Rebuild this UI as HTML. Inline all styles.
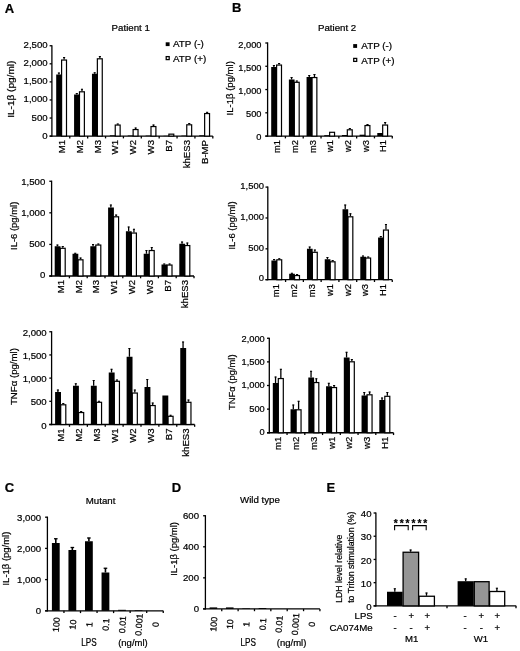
<!DOCTYPE html>
<html><head><meta charset="utf-8"><title>Figure</title>
<style>
html,body{margin:0;padding:0;background:#fff;}
svg{display:block;font-family:"Liberation Sans",Arial,sans-serif;fill:#111;}
svg text{fill:#000;stroke:#000;stroke-width:0.22px;}
</style></head><body>
<svg width="520" height="651" viewBox="0 0 520 651">
<rect x="0" y="0" width="520" height="651" fill="#fff"/>
<text x="4.70" y="12.50" text-anchor="start" font-size="13.0" font-weight="bold">A</text>
<text x="232.00" y="12.40" text-anchor="start" font-size="13.0" font-weight="bold">B</text>
<text x="4.80" y="492.20" text-anchor="start" font-size="13.0" font-weight="bold">C</text>
<text x="171.80" y="491.60" text-anchor="start" font-size="13.0" font-weight="bold">D</text>
<text x="326.40" y="492.20" text-anchor="start" font-size="13.0" font-weight="bold">E</text>
<line x1="51.90" y1="45.15" x2="51.90" y2="136.75" stroke="#000" stroke-width="1.3"/>
<line x1="49.60" y1="136.10" x2="212.82" y2="136.10" stroke="#000" stroke-width="1.3"/>
<line x1="49.60" y1="45.75" x2="51.90" y2="45.75" stroke="#000" stroke-width="1.3"/>
<text x="47.60" y="47.51" text-anchor="end" font-size="9.6">2,500</text>
<line x1="49.60" y1="63.82" x2="51.90" y2="63.82" stroke="#000" stroke-width="1.3"/>
<text x="47.60" y="65.82" text-anchor="end" font-size="9.6">2,000</text>
<line x1="49.60" y1="81.89" x2="51.90" y2="81.89" stroke="#000" stroke-width="1.3"/>
<text x="47.60" y="84.13" text-anchor="end" font-size="9.6">1,500</text>
<line x1="49.60" y1="99.96" x2="51.90" y2="99.96" stroke="#000" stroke-width="1.3"/>
<text x="47.60" y="102.44" text-anchor="end" font-size="9.6">1,000</text>
<line x1="49.60" y1="118.03" x2="51.90" y2="118.03" stroke="#000" stroke-width="1.3"/>
<text x="47.60" y="120.75" text-anchor="end" font-size="9.6">500</text>
<line x1="49.60" y1="136.10" x2="51.90" y2="136.10" stroke="#000" stroke-width="1.3"/>
<text x="47.60" y="139.06" text-anchor="end" font-size="9.6">0</text>
<line x1="69.78" y1="136.10" x2="69.78" y2="138.40" stroke="#000" stroke-width="1.3"/>
<line x1="87.66" y1="136.10" x2="87.66" y2="138.40" stroke="#000" stroke-width="1.3"/>
<line x1="105.54" y1="136.10" x2="105.54" y2="138.40" stroke="#000" stroke-width="1.3"/>
<line x1="123.42" y1="136.10" x2="123.42" y2="138.40" stroke="#000" stroke-width="1.3"/>
<line x1="141.30" y1="136.10" x2="141.30" y2="138.40" stroke="#000" stroke-width="1.3"/>
<line x1="159.18" y1="136.10" x2="159.18" y2="138.40" stroke="#000" stroke-width="1.3"/>
<line x1="177.06" y1="136.10" x2="177.06" y2="138.40" stroke="#000" stroke-width="1.3"/>
<line x1="194.94" y1="136.10" x2="194.94" y2="138.40" stroke="#000" stroke-width="1.3"/>
<line x1="212.82" y1="136.10" x2="212.82" y2="138.40" stroke="#000" stroke-width="1.3"/>
<rect x="61.60" y="60.05" width="4.90" height="76.05" fill="#fff" stroke="#000" stroke-width="1.2"/>
<line x1="64.10" y1="59.50" x2="64.10" y2="57.20" stroke="#000" stroke-width="1.3"/>
<line x1="63.05" y1="57.50" x2="65.15" y2="57.50" stroke="#000" stroke-width="1.05"/>
<rect x="56.20" y="74.50" width="5.70" height="61.60" fill="#000"/>
<line x1="58.90" y1="74.50" x2="58.90" y2="72.70" stroke="#000" stroke-width="1.3"/>
<line x1="57.85" y1="73.00" x2="59.95" y2="73.00" stroke="#000" stroke-width="1.05"/>
<text x="64.74" y="140.00" text-anchor="end" font-size="9.6" transform="rotate(-90 64.74 140.00)">M1</text>
<rect x="79.48" y="91.80" width="4.90" height="44.30" fill="#fff" stroke="#000" stroke-width="1.2"/>
<line x1="81.98" y1="91.25" x2="81.98" y2="88.95" stroke="#000" stroke-width="1.3"/>
<line x1="80.93" y1="89.25" x2="83.03" y2="89.25" stroke="#000" stroke-width="1.05"/>
<rect x="74.08" y="94.50" width="5.70" height="41.60" fill="#000"/>
<line x1="76.78" y1="94.50" x2="76.78" y2="93.20" stroke="#000" stroke-width="1.3"/>
<line x1="75.73" y1="93.50" x2="77.83" y2="93.50" stroke="#000" stroke-width="1.05"/>
<text x="82.62" y="140.00" text-anchor="end" font-size="9.6" transform="rotate(-90 82.62 140.00)">M2</text>
<rect x="97.36" y="58.80" width="4.90" height="77.30" fill="#fff" stroke="#000" stroke-width="1.2"/>
<line x1="99.86" y1="58.25" x2="99.86" y2="56.20" stroke="#000" stroke-width="1.3"/>
<line x1="98.81" y1="56.50" x2="100.91" y2="56.50" stroke="#000" stroke-width="1.05"/>
<rect x="91.96" y="73.75" width="5.70" height="62.35" fill="#000"/>
<line x1="94.66" y1="73.75" x2="94.66" y2="72.45" stroke="#000" stroke-width="1.3"/>
<line x1="93.61" y1="72.75" x2="95.71" y2="72.75" stroke="#000" stroke-width="1.05"/>
<text x="100.50" y="140.00" text-anchor="end" font-size="9.6" transform="rotate(-90 100.50 140.00)">M3</text>
<rect x="115.24" y="125.05" width="4.90" height="11.05" fill="#fff" stroke="#000" stroke-width="1.2"/>
<line x1="117.74" y1="124.50" x2="117.74" y2="123.70" stroke="#000" stroke-width="1.3"/>
<line x1="116.69" y1="124.00" x2="118.79" y2="124.00" stroke="#000" stroke-width="1.05"/>
<rect x="109.84" y="135.30" width="5.70" height="0.80" fill="#000"/>
<text x="118.38" y="140.00" text-anchor="end" font-size="9.6" transform="rotate(-90 118.38 140.00)">W1</text>
<rect x="133.12" y="129.55" width="4.90" height="6.55" fill="#fff" stroke="#000" stroke-width="1.2"/>
<line x1="135.62" y1="129.00" x2="135.62" y2="127.70" stroke="#000" stroke-width="1.3"/>
<line x1="134.57" y1="128.00" x2="136.67" y2="128.00" stroke="#000" stroke-width="1.05"/>
<rect x="127.72" y="135.50" width="5.70" height="0.60" fill="#000"/>
<text x="136.26" y="140.00" text-anchor="end" font-size="9.6" transform="rotate(-90 136.26 140.00)">W2</text>
<rect x="151.00" y="126.55" width="4.90" height="9.55" fill="#fff" stroke="#000" stroke-width="1.2"/>
<line x1="153.50" y1="126.00" x2="153.50" y2="124.70" stroke="#000" stroke-width="1.3"/>
<line x1="152.45" y1="125.00" x2="154.55" y2="125.00" stroke="#000" stroke-width="1.05"/>
<rect x="145.60" y="135.60" width="5.70" height="0.50" fill="#000"/>
<text x="154.14" y="140.00" text-anchor="end" font-size="9.6" transform="rotate(-90 154.14 140.00)">W3</text>
<rect x="168.88" y="134.15" width="4.90" height="1.95" fill="#fff" stroke="#000" stroke-width="1.2"/>
<rect x="163.48" y="135.80" width="5.70" height="0.30" fill="#000"/>
<text x="172.02" y="140.00" text-anchor="end" font-size="9.6" transform="rotate(-90 172.02 140.00)">B7</text>
<rect x="186.76" y="124.80" width="4.90" height="11.30" fill="#fff" stroke="#000" stroke-width="1.2"/>
<line x1="189.26" y1="124.25" x2="189.26" y2="123.20" stroke="#000" stroke-width="1.3"/>
<line x1="188.21" y1="123.50" x2="190.31" y2="123.50" stroke="#000" stroke-width="1.05"/>
<rect x="181.36" y="135.60" width="5.70" height="0.50" fill="#000"/>
<text x="189.90" y="140.00" text-anchor="end" font-size="9.6" transform="rotate(-90 189.90 140.00)">khES3</text>
<rect x="204.64" y="113.55" width="4.90" height="22.55" fill="#fff" stroke="#000" stroke-width="1.2"/>
<line x1="207.14" y1="113.00" x2="207.14" y2="112.00" stroke="#000" stroke-width="1.3"/>
<line x1="206.09" y1="112.30" x2="208.19" y2="112.30" stroke="#000" stroke-width="1.05"/>
<rect x="199.24" y="135.30" width="5.70" height="0.80" fill="#000"/>
<text x="207.78" y="140.00" text-anchor="end" font-size="9.6" transform="rotate(-90 207.78 140.00)">B-MP</text>
<text x="111.60" y="30.80" text-anchor="start" font-size="9.7">Patient 1</text>
<text x="14.40" y="117.80" font-size="9.6" textLength="57.20" lengthAdjust="spacingAndGlyphs" transform="rotate(-90 14.40 117.80)">IL-1β (pg/ml)</text>
<rect x="165.70" y="42.30" width="3.90" height="3.80" fill="#000"/>
<text x="173.00" y="47.30" text-anchor="start" font-size="9.85">ATP (-)</text>
<rect x="166.20" y="56.60" width="3.00" height="3.00" fill="#fff" stroke="#000" stroke-width="1.25"/>
<text x="173.00" y="61.70" text-anchor="start" font-size="9.85">ATP (+)</text>
<line x1="267.60" y1="42.40" x2="267.60" y2="136.75" stroke="#000" stroke-width="1.3"/>
<line x1="265.30" y1="136.10" x2="392.26" y2="136.10" stroke="#000" stroke-width="1.3"/>
<line x1="265.30" y1="43.00" x2="267.60" y2="43.00" stroke="#000" stroke-width="1.3"/>
<text x="261.50" y="47.63" text-anchor="end" font-size="9.25">2,000</text>
<line x1="265.30" y1="66.28" x2="267.60" y2="66.28" stroke="#000" stroke-width="1.3"/>
<text x="261.50" y="70.81" text-anchor="end" font-size="9.25">1,500</text>
<line x1="265.30" y1="89.55" x2="267.60" y2="89.55" stroke="#000" stroke-width="1.3"/>
<text x="261.50" y="93.98" text-anchor="end" font-size="9.25">1,000</text>
<line x1="265.30" y1="112.82" x2="267.60" y2="112.82" stroke="#000" stroke-width="1.3"/>
<text x="261.50" y="117.15" text-anchor="end" font-size="9.25">500</text>
<line x1="265.30" y1="136.10" x2="267.60" y2="136.10" stroke="#000" stroke-width="1.3"/>
<text x="261.50" y="140.33" text-anchor="end" font-size="9.25">0</text>
<line x1="285.41" y1="136.10" x2="285.41" y2="138.40" stroke="#000" stroke-width="1.3"/>
<line x1="303.22" y1="136.10" x2="303.22" y2="138.40" stroke="#000" stroke-width="1.3"/>
<line x1="321.03" y1="136.10" x2="321.03" y2="138.40" stroke="#000" stroke-width="1.3"/>
<line x1="338.84" y1="136.10" x2="338.84" y2="138.40" stroke="#000" stroke-width="1.3"/>
<line x1="356.65" y1="136.10" x2="356.65" y2="138.40" stroke="#000" stroke-width="1.3"/>
<line x1="374.46" y1="136.10" x2="374.46" y2="138.40" stroke="#000" stroke-width="1.3"/>
<line x1="392.27" y1="136.10" x2="392.27" y2="138.40" stroke="#000" stroke-width="1.3"/>
<rect x="276.60" y="65.05" width="4.90" height="71.05" fill="#fff" stroke="#000" stroke-width="1.2"/>
<line x1="279.10" y1="64.50" x2="279.10" y2="63.20" stroke="#000" stroke-width="1.3"/>
<line x1="278.05" y1="63.50" x2="280.15" y2="63.50" stroke="#000" stroke-width="1.05"/>
<rect x="271.20" y="67.00" width="5.70" height="69.10" fill="#000"/>
<line x1="273.90" y1="67.00" x2="273.90" y2="65.20" stroke="#000" stroke-width="1.3"/>
<line x1="272.85" y1="65.50" x2="274.95" y2="65.50" stroke="#000" stroke-width="1.05"/>
<text x="280.24" y="140.00" text-anchor="end" font-size="9.3" transform="rotate(-90 280.24 140.00)">m1</text>
<rect x="294.28" y="82.30" width="4.90" height="53.80" fill="#fff" stroke="#000" stroke-width="1.2"/>
<line x1="296.78" y1="81.75" x2="296.78" y2="80.70" stroke="#000" stroke-width="1.3"/>
<line x1="295.73" y1="81.00" x2="297.83" y2="81.00" stroke="#000" stroke-width="1.05"/>
<rect x="288.88" y="79.50" width="5.70" height="56.60" fill="#000"/>
<line x1="291.58" y1="79.50" x2="291.58" y2="77.20" stroke="#000" stroke-width="1.3"/>
<line x1="290.53" y1="77.50" x2="292.63" y2="77.50" stroke="#000" stroke-width="1.05"/>
<text x="297.92" y="140.00" text-anchor="end" font-size="9.3" transform="rotate(-90 297.92 140.00)">m2</text>
<rect x="311.96" y="77.55" width="4.90" height="58.55" fill="#fff" stroke="#000" stroke-width="1.2"/>
<line x1="314.46" y1="77.00" x2="314.46" y2="74.20" stroke="#000" stroke-width="1.3"/>
<line x1="313.41" y1="74.50" x2="315.51" y2="74.50" stroke="#000" stroke-width="1.05"/>
<rect x="306.56" y="77.00" width="5.70" height="59.10" fill="#000"/>
<line x1="309.26" y1="77.00" x2="309.26" y2="75.20" stroke="#000" stroke-width="1.3"/>
<line x1="308.21" y1="75.50" x2="310.31" y2="75.50" stroke="#000" stroke-width="1.05"/>
<text x="315.60" y="140.00" text-anchor="end" font-size="9.3" transform="rotate(-90 315.60 140.00)">m3</text>
<rect x="329.64" y="132.30" width="4.90" height="3.80" fill="#fff" stroke="#000" stroke-width="1.2"/>
<rect x="324.24" y="135.20" width="5.70" height="0.90" fill="#000"/>
<text x="333.28" y="140.00" text-anchor="end" font-size="9.3" transform="rotate(-90 333.28 140.00)">w1</text>
<rect x="347.32" y="129.80" width="4.90" height="6.30" fill="#fff" stroke="#000" stroke-width="1.2"/>
<line x1="349.82" y1="129.25" x2="349.82" y2="128.20" stroke="#000" stroke-width="1.3"/>
<line x1="348.77" y1="128.50" x2="350.87" y2="128.50" stroke="#000" stroke-width="1.05"/>
<rect x="341.92" y="135.00" width="5.70" height="1.10" fill="#000"/>
<text x="350.96" y="140.00" text-anchor="end" font-size="9.3" transform="rotate(-90 350.96 140.00)">w2</text>
<rect x="365.00" y="125.55" width="4.90" height="10.55" fill="#fff" stroke="#000" stroke-width="1.2"/>
<line x1="367.50" y1="125.00" x2="367.50" y2="124.20" stroke="#000" stroke-width="1.3"/>
<line x1="366.45" y1="124.50" x2="368.55" y2="124.50" stroke="#000" stroke-width="1.05"/>
<rect x="359.60" y="134.70" width="5.70" height="1.40" fill="#000"/>
<text x="368.64" y="140.00" text-anchor="end" font-size="9.3" transform="rotate(-90 368.64 140.00)">w3</text>
<rect x="382.68" y="125.05" width="4.90" height="11.05" fill="#fff" stroke="#000" stroke-width="1.2"/>
<line x1="385.18" y1="124.50" x2="385.18" y2="122.20" stroke="#000" stroke-width="1.3"/>
<line x1="384.13" y1="122.50" x2="386.23" y2="122.50" stroke="#000" stroke-width="1.05"/>
<rect x="377.28" y="133.00" width="5.70" height="3.10" fill="#000"/>
<text x="386.32" y="140.00" text-anchor="end" font-size="9.3" transform="rotate(-90 386.32 140.00)">H1</text>
<text x="318.00" y="31.20" text-anchor="start" font-size="9.7">Patient 2</text>
<text x="232.90" y="115.50" font-size="9.6" textLength="54.40" lengthAdjust="spacingAndGlyphs" transform="rotate(-90 232.90 115.50)">IL-1β (pg/ml)</text>
<rect x="353.20" y="44.10" width="3.90" height="3.80" fill="#000"/>
<text x="361.30" y="49.30" text-anchor="start" font-size="9.85">ATP (-)</text>
<rect x="353.70" y="58.40" width="3.00" height="3.00" fill="#fff" stroke="#000" stroke-width="1.25"/>
<text x="361.30" y="63.80" text-anchor="start" font-size="9.85">ATP (+)</text>
<line x1="51.60" y1="180.65" x2="51.60" y2="276.65" stroke="#000" stroke-width="1.3"/>
<line x1="49.30" y1="276.00" x2="194.00" y2="276.00" stroke="#000" stroke-width="1.3"/>
<line x1="49.30" y1="181.25" x2="51.60" y2="181.25" stroke="#000" stroke-width="1.3"/>
<text x="45.30" y="185.01" text-anchor="end" font-size="9.6">1,500</text>
<line x1="49.30" y1="212.83" x2="51.60" y2="212.83" stroke="#000" stroke-width="1.3"/>
<text x="45.30" y="216.06" text-anchor="end" font-size="9.6">1,000</text>
<line x1="49.30" y1="244.42" x2="51.60" y2="244.42" stroke="#000" stroke-width="1.3"/>
<text x="45.30" y="247.11" text-anchor="end" font-size="9.6">500</text>
<line x1="49.30" y1="276.00" x2="51.60" y2="276.00" stroke="#000" stroke-width="1.3"/>
<text x="45.30" y="278.16" text-anchor="end" font-size="9.6">0</text>
<line x1="69.40" y1="276.00" x2="69.40" y2="278.30" stroke="#000" stroke-width="1.3"/>
<line x1="87.20" y1="276.00" x2="87.20" y2="278.30" stroke="#000" stroke-width="1.3"/>
<line x1="105.00" y1="276.00" x2="105.00" y2="278.30" stroke="#000" stroke-width="1.3"/>
<line x1="122.80" y1="276.00" x2="122.80" y2="278.30" stroke="#000" stroke-width="1.3"/>
<line x1="140.60" y1="276.00" x2="140.60" y2="278.30" stroke="#000" stroke-width="1.3"/>
<line x1="158.40" y1="276.00" x2="158.40" y2="278.30" stroke="#000" stroke-width="1.3"/>
<line x1="176.20" y1="276.00" x2="176.20" y2="278.30" stroke="#000" stroke-width="1.3"/>
<line x1="194.00" y1="276.00" x2="194.00" y2="278.30" stroke="#000" stroke-width="1.3"/>
<rect x="60.20" y="248.30" width="5.00" height="27.70" fill="#fff" stroke="#000" stroke-width="1.2"/>
<line x1="62.75" y1="247.75" x2="62.75" y2="246.20" stroke="#000" stroke-width="1.3"/>
<line x1="61.70" y1="246.50" x2="63.80" y2="246.50" stroke="#000" stroke-width="1.05"/>
<rect x="54.70" y="246.25" width="5.80" height="29.75" fill="#000"/>
<line x1="57.45" y1="246.25" x2="57.45" y2="244.70" stroke="#000" stroke-width="1.3"/>
<line x1="56.40" y1="245.00" x2="58.50" y2="245.00" stroke="#000" stroke-width="1.05"/>
<text x="63.80" y="279.90" text-anchor="end" font-size="9.6" transform="rotate(-90 63.80 279.90)">M1</text>
<rect x="78.00" y="259.80" width="5.00" height="16.20" fill="#fff" stroke="#000" stroke-width="1.2"/>
<line x1="80.55" y1="259.25" x2="80.55" y2="257.70" stroke="#000" stroke-width="1.3"/>
<line x1="79.50" y1="258.00" x2="81.60" y2="258.00" stroke="#000" stroke-width="1.05"/>
<rect x="72.50" y="253.75" width="5.80" height="22.25" fill="#000"/>
<line x1="75.25" y1="253.75" x2="75.25" y2="252.95" stroke="#000" stroke-width="1.3"/>
<line x1="74.20" y1="253.25" x2="76.30" y2="253.25" stroke="#000" stroke-width="1.05"/>
<text x="81.60" y="279.90" text-anchor="end" font-size="9.6" transform="rotate(-90 81.60 279.90)">M2</text>
<rect x="95.80" y="245.05" width="5.00" height="30.95" fill="#fff" stroke="#000" stroke-width="1.2"/>
<line x1="98.35" y1="244.50" x2="98.35" y2="243.70" stroke="#000" stroke-width="1.3"/>
<line x1="97.30" y1="244.00" x2="99.40" y2="244.00" stroke="#000" stroke-width="1.05"/>
<rect x="90.30" y="246.25" width="5.80" height="29.75" fill="#000"/>
<line x1="93.05" y1="246.25" x2="93.05" y2="244.20" stroke="#000" stroke-width="1.3"/>
<line x1="92.00" y1="244.50" x2="94.10" y2="244.50" stroke="#000" stroke-width="1.05"/>
<text x="99.40" y="279.90" text-anchor="end" font-size="9.6" transform="rotate(-90 99.40 279.90)">M3</text>
<rect x="113.60" y="216.80" width="5.00" height="59.20" fill="#fff" stroke="#000" stroke-width="1.2"/>
<line x1="116.15" y1="216.25" x2="116.15" y2="214.70" stroke="#000" stroke-width="1.3"/>
<line x1="115.10" y1="215.00" x2="117.20" y2="215.00" stroke="#000" stroke-width="1.05"/>
<rect x="108.10" y="207.50" width="5.80" height="68.50" fill="#000"/>
<line x1="110.85" y1="207.50" x2="110.85" y2="204.70" stroke="#000" stroke-width="1.3"/>
<line x1="109.80" y1="205.00" x2="111.90" y2="205.00" stroke="#000" stroke-width="1.05"/>
<text x="117.20" y="279.90" text-anchor="end" font-size="9.6" transform="rotate(-90 117.20 279.90)">W1</text>
<rect x="131.40" y="233.05" width="5.00" height="42.95" fill="#fff" stroke="#000" stroke-width="1.2"/>
<line x1="133.95" y1="232.50" x2="133.95" y2="228.95" stroke="#000" stroke-width="1.3"/>
<line x1="132.90" y1="229.25" x2="135.00" y2="229.25" stroke="#000" stroke-width="1.05"/>
<rect x="125.90" y="231.25" width="5.80" height="44.75" fill="#000"/>
<line x1="128.65" y1="231.25" x2="128.65" y2="226.70" stroke="#000" stroke-width="1.3"/>
<line x1="127.60" y1="227.00" x2="129.70" y2="227.00" stroke="#000" stroke-width="1.05"/>
<text x="135.00" y="279.90" text-anchor="end" font-size="9.6" transform="rotate(-90 135.00 279.90)">W2</text>
<rect x="149.20" y="250.55" width="5.00" height="25.45" fill="#fff" stroke="#000" stroke-width="1.2"/>
<line x1="151.75" y1="250.00" x2="151.75" y2="247.20" stroke="#000" stroke-width="1.3"/>
<line x1="150.70" y1="247.50" x2="152.80" y2="247.50" stroke="#000" stroke-width="1.05"/>
<rect x="143.70" y="253.75" width="5.80" height="22.25" fill="#000"/>
<line x1="146.45" y1="253.75" x2="146.45" y2="250.20" stroke="#000" stroke-width="1.3"/>
<line x1="145.40" y1="250.50" x2="147.50" y2="250.50" stroke="#000" stroke-width="1.05"/>
<text x="152.80" y="279.90" text-anchor="end" font-size="9.6" transform="rotate(-90 152.80 279.90)">W3</text>
<rect x="167.00" y="265.05" width="5.00" height="10.95" fill="#fff" stroke="#000" stroke-width="1.2"/>
<line x1="169.55" y1="264.50" x2="169.55" y2="263.70" stroke="#000" stroke-width="1.3"/>
<line x1="168.50" y1="264.00" x2="170.60" y2="264.00" stroke="#000" stroke-width="1.05"/>
<rect x="161.50" y="264.50" width="5.80" height="11.50" fill="#000"/>
<line x1="164.25" y1="264.50" x2="164.25" y2="263.70" stroke="#000" stroke-width="1.3"/>
<line x1="163.20" y1="264.00" x2="165.30" y2="264.00" stroke="#000" stroke-width="1.05"/>
<text x="170.60" y="279.90" text-anchor="end" font-size="9.6" transform="rotate(-90 170.60 279.90)">B7</text>
<rect x="184.80" y="245.55" width="5.00" height="30.45" fill="#fff" stroke="#000" stroke-width="1.2"/>
<line x1="187.35" y1="245.00" x2="187.35" y2="242.70" stroke="#000" stroke-width="1.3"/>
<line x1="186.30" y1="243.00" x2="188.40" y2="243.00" stroke="#000" stroke-width="1.05"/>
<rect x="179.30" y="243.75" width="5.80" height="32.25" fill="#000"/>
<line x1="182.05" y1="243.75" x2="182.05" y2="241.70" stroke="#000" stroke-width="1.3"/>
<line x1="181.00" y1="242.00" x2="183.10" y2="242.00" stroke="#000" stroke-width="1.05"/>
<text x="188.40" y="279.90" text-anchor="end" font-size="9.6" transform="rotate(-90 188.40 279.90)">khES3</text>
<text x="16.80" y="249.90" font-size="9.6" textLength="48.20" lengthAdjust="spacingAndGlyphs" transform="rotate(-90 16.80 249.90)">IL-6 (pg/ml)</text>
<line x1="267.80" y1="186.50" x2="267.80" y2="280.35" stroke="#000" stroke-width="1.3"/>
<line x1="265.50" y1="279.70" x2="392.26" y2="279.70" stroke="#000" stroke-width="1.3"/>
<line x1="265.50" y1="187.10" x2="267.80" y2="187.10" stroke="#000" stroke-width="1.3"/>
<text x="263.90" y="189.20" text-anchor="end" font-size="9.45">1,500</text>
<line x1="265.50" y1="217.97" x2="267.80" y2="217.97" stroke="#000" stroke-width="1.3"/>
<text x="263.90" y="219.90" text-anchor="end" font-size="9.45">1,000</text>
<line x1="265.50" y1="248.83" x2="267.80" y2="248.83" stroke="#000" stroke-width="1.3"/>
<text x="263.90" y="250.60" text-anchor="end" font-size="9.45">500</text>
<line x1="265.50" y1="279.70" x2="267.80" y2="279.70" stroke="#000" stroke-width="1.3"/>
<text x="263.90" y="281.30" text-anchor="end" font-size="9.45">0</text>
<line x1="285.58" y1="279.70" x2="285.58" y2="282.00" stroke="#000" stroke-width="1.3"/>
<line x1="303.36" y1="279.70" x2="303.36" y2="282.00" stroke="#000" stroke-width="1.3"/>
<line x1="321.14" y1="279.70" x2="321.14" y2="282.00" stroke="#000" stroke-width="1.3"/>
<line x1="338.92" y1="279.70" x2="338.92" y2="282.00" stroke="#000" stroke-width="1.3"/>
<line x1="356.70" y1="279.70" x2="356.70" y2="282.00" stroke="#000" stroke-width="1.3"/>
<line x1="374.48" y1="279.70" x2="374.48" y2="282.00" stroke="#000" stroke-width="1.3"/>
<line x1="392.26" y1="279.70" x2="392.26" y2="282.00" stroke="#000" stroke-width="1.3"/>
<rect x="276.80" y="259.80" width="4.90" height="19.90" fill="#fff" stroke="#000" stroke-width="1.2"/>
<line x1="279.30" y1="259.25" x2="279.30" y2="258.45" stroke="#000" stroke-width="1.3"/>
<line x1="278.25" y1="258.75" x2="280.35" y2="258.75" stroke="#000" stroke-width="1.05"/>
<rect x="271.40" y="260.50" width="5.70" height="19.20" fill="#000"/>
<line x1="274.10" y1="260.50" x2="274.10" y2="259.20" stroke="#000" stroke-width="1.3"/>
<line x1="273.05" y1="259.50" x2="275.15" y2="259.50" stroke="#000" stroke-width="1.05"/>
<text x="279.39" y="284.10" text-anchor="end" font-size="9.4" transform="rotate(-90 279.39 284.10)">m1</text>
<rect x="294.58" y="275.55" width="4.90" height="4.15" fill="#fff" stroke="#000" stroke-width="1.2"/>
<line x1="297.08" y1="275.00" x2="297.08" y2="274.20" stroke="#000" stroke-width="1.3"/>
<line x1="296.03" y1="274.50" x2="298.13" y2="274.50" stroke="#000" stroke-width="1.05"/>
<rect x="289.18" y="273.75" width="5.70" height="5.95" fill="#000"/>
<line x1="291.88" y1="273.75" x2="291.88" y2="272.95" stroke="#000" stroke-width="1.3"/>
<line x1="290.83" y1="273.25" x2="292.93" y2="273.25" stroke="#000" stroke-width="1.05"/>
<text x="297.17" y="284.10" text-anchor="end" font-size="9.4" transform="rotate(-90 297.17 284.10)">m2</text>
<rect x="312.36" y="252.30" width="4.90" height="27.40" fill="#fff" stroke="#000" stroke-width="1.2"/>
<line x1="314.86" y1="251.75" x2="314.86" y2="249.70" stroke="#000" stroke-width="1.3"/>
<line x1="313.81" y1="250.00" x2="315.91" y2="250.00" stroke="#000" stroke-width="1.05"/>
<rect x="306.96" y="248.75" width="5.70" height="30.95" fill="#000"/>
<line x1="309.66" y1="248.75" x2="309.66" y2="246.70" stroke="#000" stroke-width="1.3"/>
<line x1="308.61" y1="247.00" x2="310.71" y2="247.00" stroke="#000" stroke-width="1.05"/>
<text x="314.95" y="284.10" text-anchor="end" font-size="9.4" transform="rotate(-90 314.95 284.10)">m3</text>
<rect x="330.14" y="261.80" width="4.90" height="17.90" fill="#fff" stroke="#000" stroke-width="1.2"/>
<line x1="332.64" y1="261.25" x2="332.64" y2="260.20" stroke="#000" stroke-width="1.3"/>
<line x1="331.59" y1="260.50" x2="333.69" y2="260.50" stroke="#000" stroke-width="1.05"/>
<rect x="324.74" y="259.25" width="5.70" height="20.45" fill="#000"/>
<line x1="327.44" y1="259.25" x2="327.44" y2="257.20" stroke="#000" stroke-width="1.3"/>
<line x1="326.39" y1="257.50" x2="328.49" y2="257.50" stroke="#000" stroke-width="1.05"/>
<text x="332.73" y="284.10" text-anchor="end" font-size="9.4" transform="rotate(-90 332.73 284.10)">w1</text>
<rect x="347.92" y="216.80" width="4.90" height="62.90" fill="#fff" stroke="#000" stroke-width="1.2"/>
<line x1="350.42" y1="216.25" x2="350.42" y2="213.45" stroke="#000" stroke-width="1.3"/>
<line x1="349.37" y1="213.75" x2="351.47" y2="213.75" stroke="#000" stroke-width="1.05"/>
<rect x="342.52" y="209.25" width="5.70" height="70.45" fill="#000"/>
<line x1="345.22" y1="209.25" x2="345.22" y2="204.70" stroke="#000" stroke-width="1.3"/>
<line x1="344.17" y1="205.00" x2="346.27" y2="205.00" stroke="#000" stroke-width="1.05"/>
<text x="350.51" y="284.10" text-anchor="end" font-size="9.4" transform="rotate(-90 350.51 284.10)">w2</text>
<rect x="365.70" y="258.05" width="4.90" height="21.65" fill="#fff" stroke="#000" stroke-width="1.2"/>
<line x1="368.20" y1="257.50" x2="368.20" y2="256.70" stroke="#000" stroke-width="1.3"/>
<line x1="367.15" y1="257.00" x2="369.25" y2="257.00" stroke="#000" stroke-width="1.05"/>
<rect x="360.30" y="256.75" width="5.70" height="22.95" fill="#000"/>
<line x1="363.00" y1="256.75" x2="363.00" y2="255.70" stroke="#000" stroke-width="1.3"/>
<line x1="361.95" y1="256.00" x2="364.05" y2="256.00" stroke="#000" stroke-width="1.05"/>
<text x="368.29" y="284.10" text-anchor="end" font-size="9.4" transform="rotate(-90 368.29 284.10)">w3</text>
<rect x="383.48" y="230.05" width="4.90" height="49.65" fill="#fff" stroke="#000" stroke-width="1.2"/>
<line x1="385.98" y1="229.50" x2="385.98" y2="224.20" stroke="#000" stroke-width="1.3"/>
<line x1="384.93" y1="224.50" x2="387.03" y2="224.50" stroke="#000" stroke-width="1.05"/>
<rect x="378.08" y="237.50" width="5.70" height="42.20" fill="#000"/>
<line x1="380.78" y1="237.50" x2="380.78" y2="236.20" stroke="#000" stroke-width="1.3"/>
<line x1="379.73" y1="236.50" x2="381.83" y2="236.50" stroke="#000" stroke-width="1.05"/>
<text x="386.07" y="284.10" text-anchor="end" font-size="9.4" transform="rotate(-90 386.07 284.10)">H1</text>
<text x="235.00" y="249.60" font-size="9.6" textLength="48.20" lengthAdjust="spacingAndGlyphs" transform="rotate(-90 235.00 249.60)">IL-6 (pg/ml)</text>
<line x1="51.60" y1="331.15" x2="51.60" y2="425.15" stroke="#000" stroke-width="1.3"/>
<line x1="49.30" y1="424.50" x2="194.64" y2="424.50" stroke="#000" stroke-width="1.3"/>
<line x1="49.30" y1="331.75" x2="51.60" y2="331.75" stroke="#000" stroke-width="1.3"/>
<text x="46.70" y="335.61" text-anchor="end" font-size="9.6">2,000</text>
<line x1="49.30" y1="354.94" x2="51.60" y2="354.94" stroke="#000" stroke-width="1.3"/>
<text x="46.70" y="358.89" text-anchor="end" font-size="9.6">1,500</text>
<line x1="49.30" y1="378.12" x2="51.60" y2="378.12" stroke="#000" stroke-width="1.3"/>
<text x="46.70" y="382.18" text-anchor="end" font-size="9.6">1,000</text>
<line x1="49.30" y1="401.31" x2="51.60" y2="401.31" stroke="#000" stroke-width="1.3"/>
<text x="46.70" y="405.47" text-anchor="end" font-size="9.6">500</text>
<line x1="49.30" y1="424.50" x2="51.60" y2="424.50" stroke="#000" stroke-width="1.3"/>
<text x="46.70" y="428.76" text-anchor="end" font-size="9.6">0</text>
<line x1="69.48" y1="424.50" x2="69.48" y2="426.80" stroke="#000" stroke-width="1.3"/>
<line x1="87.36" y1="424.50" x2="87.36" y2="426.80" stroke="#000" stroke-width="1.3"/>
<line x1="105.24" y1="424.50" x2="105.24" y2="426.80" stroke="#000" stroke-width="1.3"/>
<line x1="123.12" y1="424.50" x2="123.12" y2="426.80" stroke="#000" stroke-width="1.3"/>
<line x1="141.00" y1="424.50" x2="141.00" y2="426.80" stroke="#000" stroke-width="1.3"/>
<line x1="158.88" y1="424.50" x2="158.88" y2="426.80" stroke="#000" stroke-width="1.3"/>
<line x1="176.76" y1="424.50" x2="176.76" y2="426.80" stroke="#000" stroke-width="1.3"/>
<line x1="194.64" y1="424.50" x2="194.64" y2="426.80" stroke="#000" stroke-width="1.3"/>
<rect x="60.70" y="404.80" width="5.10" height="19.70" fill="#fff" stroke="#000" stroke-width="1.2"/>
<line x1="63.30" y1="404.25" x2="63.30" y2="403.20" stroke="#000" stroke-width="1.3"/>
<line x1="62.25" y1="403.50" x2="64.35" y2="403.50" stroke="#000" stroke-width="1.05"/>
<rect x="55.10" y="392.00" width="5.90" height="32.50" fill="#000"/>
<line x1="57.90" y1="392.00" x2="57.90" y2="389.70" stroke="#000" stroke-width="1.3"/>
<line x1="56.85" y1="390.00" x2="58.95" y2="390.00" stroke="#000" stroke-width="1.05"/>
<text x="64.24" y="428.40" text-anchor="end" font-size="9.6" transform="rotate(-90 64.24 428.40)">M1</text>
<rect x="78.58" y="412.55" width="5.10" height="11.95" fill="#fff" stroke="#000" stroke-width="1.2"/>
<line x1="81.18" y1="412.00" x2="81.18" y2="411.20" stroke="#000" stroke-width="1.3"/>
<line x1="80.13" y1="411.50" x2="82.23" y2="411.50" stroke="#000" stroke-width="1.05"/>
<rect x="72.98" y="385.75" width="5.90" height="38.75" fill="#000"/>
<line x1="75.78" y1="385.75" x2="75.78" y2="383.45" stroke="#000" stroke-width="1.3"/>
<line x1="74.73" y1="383.75" x2="76.83" y2="383.75" stroke="#000" stroke-width="1.05"/>
<text x="82.12" y="428.40" text-anchor="end" font-size="9.6" transform="rotate(-90 82.12 428.40)">M2</text>
<rect x="96.46" y="402.30" width="5.10" height="22.20" fill="#fff" stroke="#000" stroke-width="1.2"/>
<line x1="99.06" y1="401.75" x2="99.06" y2="400.95" stroke="#000" stroke-width="1.3"/>
<line x1="98.01" y1="401.25" x2="100.11" y2="401.25" stroke="#000" stroke-width="1.05"/>
<rect x="90.86" y="385.75" width="5.90" height="38.75" fill="#000"/>
<line x1="93.66" y1="385.75" x2="93.66" y2="380.20" stroke="#000" stroke-width="1.3"/>
<line x1="92.61" y1="380.50" x2="94.71" y2="380.50" stroke="#000" stroke-width="1.05"/>
<text x="100.00" y="428.40" text-anchor="end" font-size="9.6" transform="rotate(-90 100.00 428.40)">M3</text>
<rect x="114.34" y="381.30" width="5.10" height="43.20" fill="#fff" stroke="#000" stroke-width="1.2"/>
<line x1="116.94" y1="380.75" x2="116.94" y2="379.70" stroke="#000" stroke-width="1.3"/>
<line x1="115.89" y1="380.00" x2="117.99" y2="380.00" stroke="#000" stroke-width="1.05"/>
<rect x="108.74" y="372.50" width="5.90" height="52.00" fill="#000"/>
<line x1="111.54" y1="372.50" x2="111.54" y2="368.95" stroke="#000" stroke-width="1.3"/>
<line x1="110.49" y1="369.25" x2="112.59" y2="369.25" stroke="#000" stroke-width="1.05"/>
<text x="117.88" y="428.40" text-anchor="end" font-size="9.6" transform="rotate(-90 117.88 428.40)">W1</text>
<rect x="132.22" y="393.05" width="5.10" height="31.45" fill="#fff" stroke="#000" stroke-width="1.2"/>
<line x1="134.82" y1="392.50" x2="134.82" y2="389.70" stroke="#000" stroke-width="1.3"/>
<line x1="133.77" y1="390.00" x2="135.87" y2="390.00" stroke="#000" stroke-width="1.05"/>
<rect x="126.62" y="356.75" width="5.90" height="67.75" fill="#000"/>
<line x1="129.42" y1="356.75" x2="129.42" y2="348.20" stroke="#000" stroke-width="1.3"/>
<line x1="128.37" y1="348.50" x2="130.47" y2="348.50" stroke="#000" stroke-width="1.05"/>
<text x="135.76" y="428.40" text-anchor="end" font-size="9.6" transform="rotate(-90 135.76 428.40)">W2</text>
<rect x="150.10" y="405.55" width="5.10" height="18.95" fill="#fff" stroke="#000" stroke-width="1.2"/>
<line x1="152.70" y1="405.00" x2="152.70" y2="402.70" stroke="#000" stroke-width="1.3"/>
<line x1="151.65" y1="403.00" x2="153.75" y2="403.00" stroke="#000" stroke-width="1.05"/>
<rect x="144.50" y="387.00" width="5.90" height="37.50" fill="#000"/>
<line x1="147.30" y1="387.00" x2="147.30" y2="379.20" stroke="#000" stroke-width="1.3"/>
<line x1="146.25" y1="379.50" x2="148.35" y2="379.50" stroke="#000" stroke-width="1.05"/>
<text x="153.64" y="428.40" text-anchor="end" font-size="9.6" transform="rotate(-90 153.64 428.40)">W3</text>
<rect x="167.98" y="416.30" width="5.10" height="8.20" fill="#fff" stroke="#000" stroke-width="1.2"/>
<line x1="170.58" y1="415.75" x2="170.58" y2="414.95" stroke="#000" stroke-width="1.3"/>
<line x1="169.53" y1="415.25" x2="171.63" y2="415.25" stroke="#000" stroke-width="1.05"/>
<rect x="162.38" y="395.50" width="5.90" height="29.00" fill="#000"/>
<text x="171.52" y="428.40" text-anchor="end" font-size="9.6" transform="rotate(-90 171.52 428.40)">B7</text>
<rect x="185.86" y="402.30" width="5.10" height="22.20" fill="#fff" stroke="#000" stroke-width="1.2"/>
<line x1="188.46" y1="401.75" x2="188.46" y2="399.70" stroke="#000" stroke-width="1.3"/>
<line x1="187.41" y1="400.00" x2="189.51" y2="400.00" stroke="#000" stroke-width="1.05"/>
<rect x="180.26" y="348.00" width="5.90" height="76.50" fill="#000"/>
<line x1="183.06" y1="348.00" x2="183.06" y2="341.70" stroke="#000" stroke-width="1.3"/>
<line x1="182.01" y1="342.00" x2="184.11" y2="342.00" stroke="#000" stroke-width="1.05"/>
<text x="189.40" y="428.40" text-anchor="end" font-size="9.6" transform="rotate(-90 189.40 428.40)">khES3</text>
<text x="17.20" y="405.00" font-size="9.6" textLength="56.90" lengthAdjust="spacingAndGlyphs" transform="rotate(-90 17.20 405.00)">TNFα (pg/ml)</text>
<line x1="269.30" y1="337.65" x2="269.30" y2="433.40" stroke="#000" stroke-width="1.3"/>
<line x1="267.00" y1="432.75" x2="393.55" y2="432.75" stroke="#000" stroke-width="1.3"/>
<line x1="267.00" y1="338.25" x2="269.30" y2="338.25" stroke="#000" stroke-width="1.3"/>
<text x="264.70" y="341.58" text-anchor="end" font-size="9.25">2,000</text>
<line x1="267.00" y1="361.88" x2="269.30" y2="361.88" stroke="#000" stroke-width="1.3"/>
<text x="264.70" y="365.00" text-anchor="end" font-size="9.25">1,500</text>
<line x1="267.00" y1="385.50" x2="269.30" y2="385.50" stroke="#000" stroke-width="1.3"/>
<text x="264.70" y="388.43" text-anchor="end" font-size="9.25">1,000</text>
<line x1="267.00" y1="409.12" x2="269.30" y2="409.12" stroke="#000" stroke-width="1.3"/>
<text x="264.70" y="411.85" text-anchor="end" font-size="9.25">500</text>
<line x1="267.00" y1="432.75" x2="269.30" y2="432.75" stroke="#000" stroke-width="1.3"/>
<text x="264.70" y="435.28" text-anchor="end" font-size="9.25">0</text>
<line x1="287.05" y1="432.75" x2="287.05" y2="435.05" stroke="#000" stroke-width="1.3"/>
<line x1="304.80" y1="432.75" x2="304.80" y2="435.05" stroke="#000" stroke-width="1.3"/>
<line x1="322.55" y1="432.75" x2="322.55" y2="435.05" stroke="#000" stroke-width="1.3"/>
<line x1="340.30" y1="432.75" x2="340.30" y2="435.05" stroke="#000" stroke-width="1.3"/>
<line x1="358.05" y1="432.75" x2="358.05" y2="435.05" stroke="#000" stroke-width="1.3"/>
<line x1="375.80" y1="432.75" x2="375.80" y2="435.05" stroke="#000" stroke-width="1.3"/>
<line x1="393.55" y1="432.75" x2="393.55" y2="435.05" stroke="#000" stroke-width="1.3"/>
<rect x="278.30" y="378.55" width="5.00" height="54.20" fill="#fff" stroke="#000" stroke-width="1.2"/>
<line x1="280.85" y1="378.00" x2="280.85" y2="368.95" stroke="#000" stroke-width="1.3"/>
<line x1="279.80" y1="369.25" x2="281.90" y2="369.25" stroke="#000" stroke-width="1.05"/>
<rect x="272.80" y="383.00" width="5.80" height="49.75" fill="#000"/>
<line x1="275.55" y1="383.00" x2="275.55" y2="376.70" stroke="#000" stroke-width="1.3"/>
<line x1="274.50" y1="377.00" x2="276.60" y2="377.00" stroke="#000" stroke-width="1.05"/>
<text x="281.48" y="436.65" text-anchor="end" font-size="9.6" transform="rotate(-90 281.48 436.65)">m1</text>
<rect x="296.05" y="409.80" width="5.00" height="22.95" fill="#fff" stroke="#000" stroke-width="1.2"/>
<line x1="298.60" y1="409.25" x2="298.60" y2="400.95" stroke="#000" stroke-width="1.3"/>
<line x1="297.55" y1="401.25" x2="299.65" y2="401.25" stroke="#000" stroke-width="1.05"/>
<rect x="290.55" y="409.25" width="5.80" height="23.50" fill="#000"/>
<line x1="293.30" y1="409.25" x2="293.30" y2="404.70" stroke="#000" stroke-width="1.3"/>
<line x1="292.25" y1="405.00" x2="294.35" y2="405.00" stroke="#000" stroke-width="1.05"/>
<text x="299.23" y="436.65" text-anchor="end" font-size="9.6" transform="rotate(-90 299.23 436.65)">m2</text>
<rect x="313.80" y="382.55" width="5.00" height="50.20" fill="#fff" stroke="#000" stroke-width="1.2"/>
<line x1="316.35" y1="382.00" x2="316.35" y2="378.45" stroke="#000" stroke-width="1.3"/>
<line x1="315.30" y1="378.75" x2="317.40" y2="378.75" stroke="#000" stroke-width="1.05"/>
<rect x="308.30" y="377.50" width="5.80" height="55.25" fill="#000"/>
<line x1="311.05" y1="377.50" x2="311.05" y2="370.95" stroke="#000" stroke-width="1.3"/>
<line x1="310.00" y1="371.25" x2="312.10" y2="371.25" stroke="#000" stroke-width="1.05"/>
<text x="316.98" y="436.65" text-anchor="end" font-size="9.6" transform="rotate(-90 316.98 436.65)">m3</text>
<rect x="331.55" y="387.55" width="5.00" height="45.20" fill="#fff" stroke="#000" stroke-width="1.2"/>
<line x1="334.10" y1="387.00" x2="334.10" y2="385.20" stroke="#000" stroke-width="1.3"/>
<line x1="333.05" y1="385.50" x2="335.15" y2="385.50" stroke="#000" stroke-width="1.05"/>
<rect x="326.05" y="386.25" width="5.80" height="46.50" fill="#000"/>
<line x1="328.80" y1="386.25" x2="328.80" y2="382.95" stroke="#000" stroke-width="1.3"/>
<line x1="327.75" y1="383.25" x2="329.85" y2="383.25" stroke="#000" stroke-width="1.05"/>
<text x="334.73" y="436.65" text-anchor="end" font-size="9.6" transform="rotate(-90 334.73 436.65)">w1</text>
<rect x="349.30" y="361.80" width="5.00" height="70.95" fill="#fff" stroke="#000" stroke-width="1.2"/>
<line x1="351.85" y1="361.25" x2="351.85" y2="359.20" stroke="#000" stroke-width="1.3"/>
<line x1="350.80" y1="359.50" x2="352.90" y2="359.50" stroke="#000" stroke-width="1.05"/>
<rect x="343.80" y="357.50" width="5.80" height="75.25" fill="#000"/>
<line x1="346.55" y1="357.50" x2="346.55" y2="351.95" stroke="#000" stroke-width="1.3"/>
<line x1="345.50" y1="352.25" x2="347.60" y2="352.25" stroke="#000" stroke-width="1.05"/>
<text x="352.48" y="436.65" text-anchor="end" font-size="9.6" transform="rotate(-90 352.48 436.65)">w2</text>
<rect x="367.05" y="394.80" width="5.00" height="37.95" fill="#fff" stroke="#000" stroke-width="1.2"/>
<line x1="369.60" y1="394.25" x2="369.60" y2="391.70" stroke="#000" stroke-width="1.3"/>
<line x1="368.55" y1="392.00" x2="370.65" y2="392.00" stroke="#000" stroke-width="1.05"/>
<rect x="361.55" y="395.50" width="5.80" height="37.25" fill="#000"/>
<line x1="364.30" y1="395.50" x2="364.30" y2="392.20" stroke="#000" stroke-width="1.3"/>
<line x1="363.25" y1="392.50" x2="365.35" y2="392.50" stroke="#000" stroke-width="1.05"/>
<text x="370.23" y="436.65" text-anchor="end" font-size="9.6" transform="rotate(-90 370.23 436.65)">w3</text>
<rect x="384.80" y="396.30" width="5.00" height="36.45" fill="#fff" stroke="#000" stroke-width="1.2"/>
<line x1="387.35" y1="395.75" x2="387.35" y2="392.20" stroke="#000" stroke-width="1.3"/>
<line x1="386.30" y1="392.50" x2="388.40" y2="392.50" stroke="#000" stroke-width="1.05"/>
<rect x="379.30" y="400.00" width="5.80" height="32.75" fill="#000"/>
<line x1="382.05" y1="400.00" x2="382.05" y2="397.70" stroke="#000" stroke-width="1.3"/>
<line x1="381.00" y1="398.00" x2="383.10" y2="398.00" stroke="#000" stroke-width="1.05"/>
<text x="387.98" y="436.65" text-anchor="end" font-size="9.6" transform="rotate(-90 387.98 436.65)">H1</text>
<text x="235.00" y="410.00" font-size="9.6" textLength="55.60" lengthAdjust="spacingAndGlyphs" transform="rotate(-90 235.00 410.00)">TNFα (pg/ml)</text>
<line x1="47.40" y1="516.60" x2="47.40" y2="611.45" stroke="#000" stroke-width="1.3"/>
<line x1="45.10" y1="610.80" x2="163.25" y2="610.80" stroke="#000" stroke-width="1.3"/>
<line x1="45.10" y1="517.20" x2="47.40" y2="517.20" stroke="#000" stroke-width="1.3"/>
<text x="41.10" y="520.66" text-anchor="end" font-size="9.6">3,000</text>
<line x1="45.10" y1="548.40" x2="47.40" y2="548.40" stroke="#000" stroke-width="1.3"/>
<text x="41.10" y="551.86" text-anchor="end" font-size="9.6">2,000</text>
<line x1="45.10" y1="579.60" x2="47.40" y2="579.60" stroke="#000" stroke-width="1.3"/>
<text x="41.10" y="583.06" text-anchor="end" font-size="9.6">1,000</text>
<line x1="45.10" y1="610.80" x2="47.40" y2="610.80" stroke="#000" stroke-width="1.3"/>
<text x="41.10" y="614.26" text-anchor="end" font-size="9.6">0</text>
<line x1="63.95" y1="610.80" x2="63.95" y2="613.10" stroke="#000" stroke-width="1.3"/>
<line x1="80.50" y1="610.80" x2="80.50" y2="613.10" stroke="#000" stroke-width="1.3"/>
<line x1="97.05" y1="610.80" x2="97.05" y2="613.10" stroke="#000" stroke-width="1.3"/>
<line x1="113.60" y1="610.80" x2="113.60" y2="613.10" stroke="#000" stroke-width="1.3"/>
<line x1="130.15" y1="610.80" x2="130.15" y2="613.10" stroke="#000" stroke-width="1.3"/>
<line x1="146.70" y1="610.80" x2="146.70" y2="613.10" stroke="#000" stroke-width="1.3"/>
<line x1="163.25" y1="610.80" x2="163.25" y2="613.10" stroke="#000" stroke-width="1.3"/>
<rect x="51.90" y="543.00" width="7.80" height="67.80" fill="#000"/>
<line x1="55.80" y1="543.00" x2="55.80" y2="538.45" stroke="#000" stroke-width="1.6"/>
<line x1="54.00" y1="538.75" x2="57.60" y2="538.75" stroke="#000" stroke-width="1.3"/>
<text x="56.17" y="627.80" text-anchor="middle" font-size="8.9" transform="rotate(-86 56.17 624.60)">100</text>
<rect x="68.45" y="550.00" width="7.80" height="60.80" fill="#000"/>
<line x1="72.35" y1="550.00" x2="72.35" y2="547.20" stroke="#000" stroke-width="1.6"/>
<line x1="70.55" y1="547.50" x2="74.15" y2="547.50" stroke="#000" stroke-width="1.3"/>
<text x="72.73" y="627.80" text-anchor="middle" font-size="8.9" transform="rotate(-86 72.73 624.60)">10</text>
<rect x="85.00" y="541.25" width="7.80" height="69.55" fill="#000"/>
<line x1="88.90" y1="541.25" x2="88.90" y2="537.70" stroke="#000" stroke-width="1.6"/>
<line x1="87.10" y1="538.00" x2="90.70" y2="538.00" stroke="#000" stroke-width="1.3"/>
<text x="89.28" y="627.80" text-anchor="middle" font-size="8.9" transform="rotate(-86 89.28 624.60)">1</text>
<rect x="101.55" y="572.50" width="7.80" height="38.30" fill="#000"/>
<line x1="105.45" y1="572.50" x2="105.45" y2="567.95" stroke="#000" stroke-width="1.6"/>
<line x1="103.65" y1="568.25" x2="107.25" y2="568.25" stroke="#000" stroke-width="1.3"/>
<text x="105.83" y="627.80" text-anchor="middle" font-size="8.9" transform="rotate(-86 105.83 624.60)">0.1</text>
<rect x="118.10" y="609.80" width="7.80" height="1.00" fill="#000"/>
<text x="122.38" y="627.80" text-anchor="middle" font-size="8.9" transform="rotate(-86 122.38 624.60)">0.01</text>
<rect x="134.65" y="610.20" width="7.80" height="0.60" fill="#000"/>
<text x="138.93" y="627.80" text-anchor="middle" font-size="8.9" transform="rotate(-86 138.93 624.60)">0.001</text>
<text x="155.48" y="627.80" text-anchor="middle" font-size="8.9" transform="rotate(-86 155.48 624.60)">0</text>
<text x="85.80" y="504.40" text-anchor="start" font-size="9.7">Mutant</text>
<text x="9.20" y="585.50" font-size="9.6" textLength="53.90" lengthAdjust="spacingAndGlyphs" transform="rotate(-90 9.20 585.50)">IL-1β (pg/ml)</text>
<text x="81.20" y="645.80" font-size="10.0" textLength="15.40" lengthAdjust="spacingAndGlyphs">LPS</text>
<text x="118.20" y="645.60" font-size="9.5" textLength="29.50" lengthAdjust="spacingAndGlyphs">(ng/ml)</text>
<line x1="205.40" y1="515.15" x2="205.40" y2="609.55" stroke="#000" stroke-width="1.3"/>
<line x1="203.10" y1="608.90" x2="319.92" y2="608.90" stroke="#000" stroke-width="1.3"/>
<line x1="203.10" y1="515.75" x2="205.40" y2="515.75" stroke="#000" stroke-width="1.3"/>
<text x="199.00" y="519.21" text-anchor="end" font-size="9.6">600</text>
<line x1="203.10" y1="546.80" x2="205.40" y2="546.80" stroke="#000" stroke-width="1.3"/>
<text x="199.00" y="550.26" text-anchor="end" font-size="9.6">400</text>
<line x1="203.10" y1="577.85" x2="205.40" y2="577.85" stroke="#000" stroke-width="1.3"/>
<text x="199.00" y="581.31" text-anchor="end" font-size="9.6">200</text>
<line x1="203.10" y1="608.90" x2="205.40" y2="608.90" stroke="#000" stroke-width="1.3"/>
<text x="199.00" y="612.36" text-anchor="end" font-size="9.6">0</text>
<line x1="221.76" y1="608.90" x2="221.76" y2="611.20" stroke="#000" stroke-width="1.3"/>
<line x1="238.12" y1="608.90" x2="238.12" y2="611.20" stroke="#000" stroke-width="1.3"/>
<line x1="254.48" y1="608.90" x2="254.48" y2="611.20" stroke="#000" stroke-width="1.3"/>
<line x1="270.84" y1="608.90" x2="270.84" y2="611.20" stroke="#000" stroke-width="1.3"/>
<line x1="287.20" y1="608.90" x2="287.20" y2="611.20" stroke="#000" stroke-width="1.3"/>
<line x1="303.56" y1="608.90" x2="303.56" y2="611.20" stroke="#000" stroke-width="1.3"/>
<line x1="319.92" y1="608.90" x2="319.92" y2="611.20" stroke="#000" stroke-width="1.3"/>
<rect x="209.60" y="607.40" width="7.60" height="1.50" fill="#000"/>
<text x="213.58" y="627.40" text-anchor="middle" font-size="8.9" transform="rotate(-86 213.58 624.20)">100</text>
<rect x="225.96" y="607.40" width="7.60" height="1.50" fill="#000"/>
<text x="229.94" y="627.40" text-anchor="middle" font-size="8.9" transform="rotate(-86 229.94 624.20)">10</text>
<rect x="242.32" y="608.40" width="7.60" height="0.50" fill="#000"/>
<text x="246.30" y="627.40" text-anchor="middle" font-size="8.9" transform="rotate(-86 246.30 624.20)">1</text>
<rect x="258.68" y="608.00" width="7.60" height="0.90" fill="#000"/>
<text x="262.66" y="627.40" text-anchor="middle" font-size="8.9" transform="rotate(-86 262.66 624.20)">0.1</text>
<text x="279.02" y="627.40" text-anchor="middle" font-size="8.9" transform="rotate(-86 279.02 624.20)">0.01</text>
<text x="295.38" y="627.40" text-anchor="middle" font-size="8.9" transform="rotate(-86 295.38 624.20)">0.001</text>
<text x="311.74" y="627.40" text-anchor="middle" font-size="8.9" transform="rotate(-86 311.74 624.20)">0</text>
<text x="240.00" y="503.30" text-anchor="start" font-size="9.7">Wild type</text>
<text x="177.20" y="575.80" font-size="9.6" textLength="53.80" lengthAdjust="spacingAndGlyphs" transform="rotate(-90 177.20 575.80)">IL-1β (pg/ml)</text>
<text x="240.40" y="645.80" font-size="10.0" textLength="15.50" lengthAdjust="spacingAndGlyphs">LPS</text>
<text x="276.80" y="645.50" font-size="9.5" textLength="29.60" lengthAdjust="spacingAndGlyphs">(ng/ml)</text>
<line x1="375.90" y1="512.40" x2="375.90" y2="606.55" stroke="#000" stroke-width="1.3"/>
<line x1="373.60" y1="605.90" x2="516.30" y2="605.90" stroke="#000" stroke-width="1.3"/>
<line x1="373.60" y1="513.00" x2="375.90" y2="513.00" stroke="#000" stroke-width="1.3"/>
<text x="371.50" y="517.26" text-anchor="end" font-size="9.6">40</text>
<line x1="373.60" y1="536.23" x2="375.90" y2="536.23" stroke="#000" stroke-width="1.3"/>
<text x="371.50" y="540.41" text-anchor="end" font-size="9.6">30</text>
<line x1="373.60" y1="559.45" x2="375.90" y2="559.45" stroke="#000" stroke-width="1.3"/>
<text x="371.50" y="563.56" text-anchor="end" font-size="9.6">20</text>
<line x1="373.60" y1="582.67" x2="375.90" y2="582.67" stroke="#000" stroke-width="1.3"/>
<text x="371.50" y="586.71" text-anchor="end" font-size="9.6">10</text>
<line x1="373.60" y1="605.90" x2="375.90" y2="605.90" stroke="#000" stroke-width="1.3"/>
<text x="371.50" y="609.86" text-anchor="end" font-size="9.6">0</text>
<line x1="447.00" y1="605.90" x2="447.00" y2="608.20" stroke="#000" stroke-width="1.3"/>
<line x1="516.00" y1="605.90" x2="516.00" y2="608.20" stroke="#000" stroke-width="1.3"/>
<rect x="387.00" y="591.75" width="15.60" height="14.15" fill="#000"/>
<line x1="394.80" y1="591.75" x2="394.80" y2="588.45" stroke="#000" stroke-width="1.3"/>
<line x1="393.70" y1="588.75" x2="395.90" y2="588.75" stroke="#000" stroke-width="1.05"/>
<rect x="403.10" y="552.25" width="15.50" height="53.65" fill="#959595" stroke="#000" stroke-width="1.3"/>
<line x1="410.60" y1="551.75" x2="410.60" y2="549.70" stroke="#000" stroke-width="1.3"/>
<line x1="409.50" y1="550.00" x2="411.70" y2="550.00" stroke="#000" stroke-width="1.05"/>
<rect x="419.10" y="596.25" width="15.30" height="9.65" fill="#fff" stroke="#000" stroke-width="1.3"/>
<line x1="426.50" y1="595.75" x2="426.50" y2="592.70" stroke="#000" stroke-width="1.3"/>
<line x1="425.40" y1="593.00" x2="427.60" y2="593.00" stroke="#000" stroke-width="1.05"/>
<rect x="457.60" y="581.20" width="16.20" height="24.70" fill="#000"/>
<line x1="465.70" y1="581.20" x2="465.70" y2="578.60" stroke="#000" stroke-width="1.3"/>
<line x1="464.60" y1="578.90" x2="466.80" y2="578.90" stroke="#000" stroke-width="1.05"/>
<rect x="474.30" y="581.70" width="14.80" height="24.20" fill="#959595" stroke="#000" stroke-width="1.3"/>
<rect x="489.60" y="591.50" width="15.10" height="14.40" fill="#fff" stroke="#000" stroke-width="1.3"/>
<line x1="496.90" y1="591.00" x2="496.90" y2="587.90" stroke="#000" stroke-width="1.3"/>
<line x1="495.80" y1="588.20" x2="498.00" y2="588.20" stroke="#000" stroke-width="1.05"/>
<polyline points="394.6,530.2 394.6,525.6 408.2,525.6 408.2,530.2" fill="none" stroke="#000" stroke-width="1.1"/>
<polyline points="412.6,530.2 412.6,525.6 426.2,525.6 426.2,530.2" fill="none" stroke="#000" stroke-width="1.1"/>
<text x="411.50" y="526.50" text-anchor="middle" font-size="10.2" font-weight="bold" letter-spacing="1.95">******</text>
<text x="342.10" y="602.80" text-anchor="start" font-size="8.7" transform="rotate(-90 342.10 602.80)">LDH level relative</text>
<text x="354.20" y="602.80" text-anchor="start" font-size="8.7" transform="rotate(-90 354.20 602.80)">to Triton stimulation (%)</text>
<text x="372.70" y="618.70" text-anchor="end" font-size="9.6">LPS</text>
<text x="372.70" y="630.50" text-anchor="end" font-size="9.7">CA074Me</text>
<text x="395.00" y="619.40" text-anchor="middle" font-size="9.5">-</text>
<text x="395.00" y="630.60" text-anchor="middle" font-size="9.5">-</text>
<text x="411.20" y="619.40" text-anchor="middle" font-size="9.5">+</text>
<text x="411.20" y="630.60" text-anchor="middle" font-size="9.5">-</text>
<text x="427.40" y="619.40" text-anchor="middle" font-size="9.5">+</text>
<text x="427.40" y="630.60" text-anchor="middle" font-size="9.5">+</text>
<text x="465.20" y="619.40" text-anchor="middle" font-size="9.5">-</text>
<text x="465.20" y="630.60" text-anchor="middle" font-size="9.5">-</text>
<text x="481.40" y="619.40" text-anchor="middle" font-size="9.5">+</text>
<text x="481.40" y="630.60" text-anchor="middle" font-size="9.5">-</text>
<text x="497.40" y="619.40" text-anchor="middle" font-size="9.5">+</text>
<text x="497.40" y="630.60" text-anchor="middle" font-size="9.5">+</text>
<text x="411.60" y="642.00" text-anchor="middle" font-size="9.6">M1</text>
<text x="481.00" y="642.00" text-anchor="middle" font-size="9.6">W1</text>
</svg>
</body></html>
